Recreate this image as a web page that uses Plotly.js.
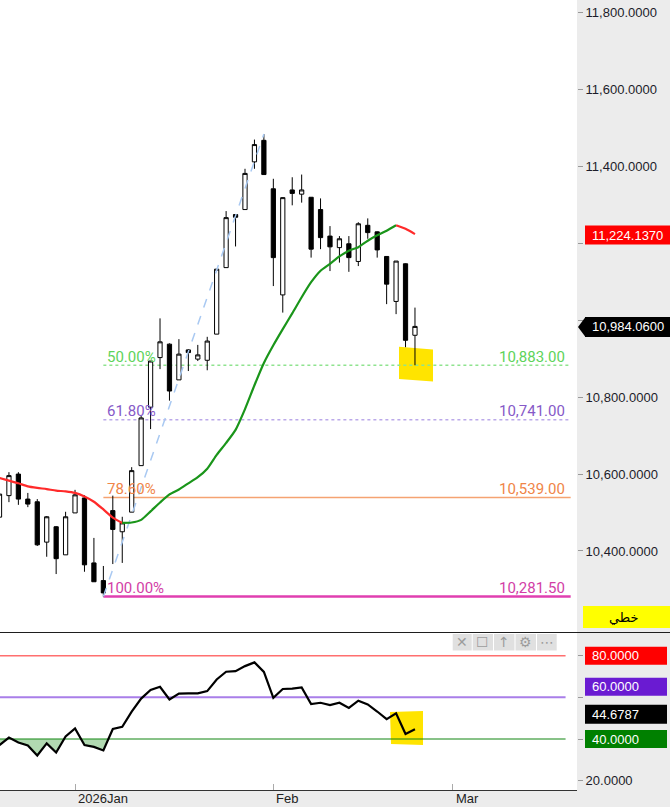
<!DOCTYPE html>
<html><head><meta charset="utf-8">
<script src="https://cdn.plot.ly/plotly-3.0.1.min.js"></script>
<style>html,body{margin:0;padding:0;background:#ececec;}#chart{width:670px;height:807px;}</style>
</head><body><div id="chart"></div>
<script>
// ---------------- DATA ----------------
const candleIdx = Array.from({length:45}, (_, i) => i);
const openP  = [10488,10544,10600,10535,10528,10423,10463,10390,10499,10538,10369,10323,10505,10450,10501,10622,10774,10903,10938,10845,10923,10899,10896,10964,11137,11275,11288,11412,11468,11342,11066,11339,11328,11320,11288,11219,11189,11199,11153,11247,11230,11166,11049,11147,10961];
const highP  = [10556,10605,10605,10551,10535,10491,10465,10502,10559,10545,10434,10361,10544,10489,10618,10751,10894,11005,10940,10951,10925,10936,10957,11133,11284,11276,11394,11470,11484.5,11368,11320,11372,11379,11320,11317,11245,11219,11219,11255,11265,11231,11166,11154,11148,11033];
const lowP   = [10449,10527,10520,10514,10413,10385,10340,10390,10499,10346,10320,10281.5,10366,10369,10501,10622,10717,10873,10791,10845,10868,10894,10870,10964,11137,11192,11288,11394,11379,11089,11020,11299,11306,11163,11185,11128,11150,11126,11141,11212,11163,11042,11016,10930,10883];
const closeP = [10548,10596,10535,10522,10416,10489,10380,10489,10546,10364,10320,10291,10456,10473,10609,10746,10894,10944,10816,10912,10916,10910,10946,11133,11267,11268,11382,11457,11379,11163,11319,11330,11339,11185,11215,11191,11212,11163,11251,11228,11183,11094,11154,10948,10984.06];
const maValues = [10590,10583,10576,10568,10564,10561,10557,10555,10551,10542,10528,10508,10487,10473,10474,10481,10503,10526,10547,10560,10576,10592,10614,10650,10681,10715,10769,10831,10889,10935,10977,11018,11060,11099,11129,11147,11166,11181,11190,11207,11221,11233,11247,11238,11224.137];
const rsiValues = [37.1,40.7,38.3,36.9,32.1,37.9,33.5,41.2,45.1,37.1,36.2,34.5,44.8,45.9,53.1,59.4,63.5,65.1,59.0,61.8,61.9,61.9,63.0,68.6,72.3,72.6,75.0,76.8,72.2,59.8,64.0,64.2,64.8,56.8,57.4,56.3,57.4,54.9,58.4,56.6,53.2,49.5,52.3,42.4,44.6787];
const fibLevels = [10883.00, 10741.00, 10539.00, 10281.50];
const fibLabels = ['50.00%', '61.80%', '78.60%', '100.00%'];
const rsiLevels = [80, 60, 40];
const priceTicks = [10400, 10600, 10800, 11000, 11200, 11400, 11600, 11800];
const priceTickText = ['10,400.0000', '10,600.0000', '10,800.0000', '', '', '11,400.0000', '11,600.0000', '11,800.0000'];
const rsiTicks = [20, 40, 60, 80];
const rsiTickText = ['20.0000', '', '', ''];
const xTickIdx = [8, 29, 48];
const xTickLabels = ['2026Jan', 'Feb', 'Mar'];
const trendIdx = [11, 28];
const boxLabelText = 'خطي';

// ---------------- LAYOUT CONSTANTS ----------------
const PW = 577, PH = 790;
const xRange = [0.053, 61.16];
const yRange = [10189.3, 11833.0];
const rRange = [15.52, 90.89];
const mainDom = [0.2, 1], rsiDom = [0, 0.19873];
const fibStart = trendIdx[0], fibEnd = 60.49, rsiLineEnd = 59.95;
const pxX = px => px / PW;
const pxY = py => (PH - py) / PH;
const yPixMain = v => (yRange[1] - v) / (yRange[1] - yRange[0]) * 632;
const yPixRsi = v => 633 + (rRange[1] - v) / (rRange[1] - rRange[0]) * 157;
const fmt2 = v => v.toLocaleString('en-US', {minimumFractionDigits: 2, maximumFractionDigits: 2});
const fmt4 = v => v.toLocaleString('en-US', {minimumFractionDigits: 4, maximumFractionDigits: 4});

const fibStyles = [
  {line: '#8fe38f', width: 1.5, dash: 'dot', text: '#5ed35a'},
  {line: '#bba9ea', width: 1.5, dash: 'dot', text: '#8659c8'},
  {line: '#f5a372', width: 1.5, dash: 'solid', text: '#f08548'},
  {line: '#e03fb0', width: 2.5, dash: 'solid', text: '#d23ea6'}
];
const rsiStyles = [
  {line: '#ff6f6f', width: 1.6, box: '#ff0000', shift: 0},
  {line: '#a97ee9', width: 2, box: '#6a1bd2', shift: -10.5},
  {line: '#118511', width: 1, box: '#008000', shift: 0}
];

// ---------------- TRACES ----------------
const traces = [];
traces.push({type: 'scatter', mode: 'lines', x: trendIdx, y: [lowP[trendIdx[0]], highP[trendIdx[1]]],
  xaxis: 'x', yaxis: 'y', line: {color: '#a9c9f2', width: 1.5, dash: 'dash'}, hoverinfo: 'skip'});
traces.push({type: 'candlestick', x: candleIdx, open: openP, high: highP, low: lowP, close: closeP,
  xaxis: 'x', yaxis: 'y', whiskerwidth: 0,
  increasing: {line: {color: '#000', width: 1}, fillcolor: '#ffffff'},
  decreasing: {line: {color: '#000', width: 1}, fillcolor: '#000000'}, hoverinfo: 'skip'});
const segs = [[0, 13, '#ff2a2a'], [13, 42, '#1a951a'], [42, 44, '#ff2a2a']];
segs.forEach(([a, b, c]) => traces.push({type: 'scatter', mode: 'lines', xaxis: 'x', yaxis: 'y',
  x: candleIdx.slice(a, b + 1), y: maValues.slice(a, b + 1),
  line: {color: c, width: 2.2, shape: 'spline', smoothing: 0.6}, hoverinfo: 'skip'}));
const lo = rsiLevels[2];
const fx = [], fy = [];
for (let i = 0; i < rsiValues.length; i++) {
  if (i > 0) {
    const a = rsiValues[i - 1] - lo, b = rsiValues[i] - lo;
    if (a * b < 0) { fx.push(i - 1 + a / (a - b)); fy.push(lo); }
  }
  fx.push(i); fy.push(Math.min(rsiValues[i], lo));
}
traces.push({type: 'scatter', mode: 'lines', x: fx, y: fx.map(() => lo), xaxis: 'x', yaxis: 'y2',
  line: {width: 0, color: 'rgba(0,0,0,0)'}, hoverinfo: 'skip'});
traces.push({type: 'scatter', mode: 'lines', x: fx, y: fy, xaxis: 'x', yaxis: 'y2', fill: 'tonexty',
  fillcolor: 'rgba(40,150,40,0.36)', line: {width: 0, color: 'rgba(0,0,0,0)'}, hoverinfo: 'skip'});
traces.push({type: 'scatter', mode: 'lines', x: candleIdx, y: rsiValues, xaxis: 'x', yaxis: 'y2',
  line: {color: '#000', width: 2.2}, hoverinfo: 'skip'});

// ---------------- SHAPES & ANNOTATIONS ----------------
const shapes = [], ann = [];
const F = 'Liberation Sans, Arial, sans-serif';
fibLevels.forEach((lv, k) => {
  const s = fibStyles[k];
  shapes.push({type: 'line', layer: 'below', xref: 'x', yref: 'y', x0: fibStart, x1: fibEnd, y0: lv, y1: lv,
    line: {color: s.line, width: s.width, dash: s.dash}});
  ann.push({xref: 'x', yref: 'y', x: fibStart, y: lv, xanchor: 'left', yanchor: 'middle', xshift: 2, yshift: 8.5,
    text: fibLabels[k], showarrow: false, font: {family: 'Roboto', size: 15, color: s.text}});
  ann.push({xref: 'x', yref: 'y', x: fibEnd, y: lv, xanchor: 'right', yanchor: 'middle', xshift: -4, yshift: 8.5,
    text: fmt2(lv), showarrow: false, font: {family: 'Roboto', size: 15, color: s.text}});
});
const hx0 = pxX(399), hx1 = pxX(433);
shapes.push({type: 'path', layer: 'below', xref: 'paper', yref: 'paper',
  path: `M${hx0},${pxY(346.7)} L${hx1},${pxY(349.5)} L${hx1},${pxY(381.5)} L${hx0},${pxY(379)} Z`,
  fillcolor: '#ffe400', line: {width: 0}});
rsiLevels.forEach((lv, k) => shapes.push({type: 'line', layer: 'below', xref: 'x', yref: 'y2',
  x0: xRange[0], x1: rsiLineEnd, y0: lv, y1: lv, line: {color: rsiStyles[k].line, width: rsiStyles[k].width}}));
shapes.push({type: 'path', layer: 'below', xref: 'paper', yref: 'paper',
  path: `M${pxX(390)},${pxY(712)} L${pxX(423)},${pxY(711)} L${pxX(423)},${pxY(745)} L${pxX(391)},${pxY(744)} Z`,
  fillcolor: '#ffe400', line: {width: 0}});
shapes.push({type: 'line', xref: 'paper', yref: 'paper', x0: 0, x1: 670 / PW, y0: pxY(632.5), y1: pxY(632.5),
  line: {color: '#1e1e1e', width: 1.2}});

function box(x0, x1, yc, h, color) {
  shapes.push({type: 'rect', xref: 'paper', yref: 'paper', x0: pxX(x0), x1: pxX(x1),
    y0: pxY(yc + h / 2), y1: pxY(yc - h / 2), fillcolor: color, line: {width: 0}, layer: 'above'});
}
function label(x, yc, text, color, anchor) {
  ann.push({xref: 'paper', yref: 'paper', x: pxX(x), y: pxY(yc), xanchor: anchor || 'left', yanchor: 'middle',
    text: text, showarrow: false, font: {family: F, size: 13, color: color}});
}
const maY = yPixMain(maValues[maValues.length - 1]) + 1;
box(585, 670, maY, 19, '#ff0000');
label(627.5, maY, fmt4(maValues[maValues.length - 1]), '#ffffff', 'center');
const pY = yPixMain(closeP[closeP.length - 1]) + 0.5;
box(585, 670, pY, 20, '#000000');
shapes.push({type: 'path', xref: 'paper', yref: 'paper', layer: 'above',
  path: `M${pxX(578)},${pxY(pY)} L${pxX(585.5)},${pxY(pY - 10)} L${pxX(585.5)},${pxY(pY + 10)} Z`,
  fillcolor: '#000', line: {width: 0}});
label(627.5, pY, fmt4(closeP[closeP.length - 1]), '#ffffff', 'center');
rsiLevels.forEach((lv, k) => {
  const yc = yPixRsi(lv) + rsiStyles[k].shift;
  box(585, 667, yc, 18, rsiStyles[k].box);
  label(590, yc, fmt4(lv), '#ffffff');
});
const rY = yPixRsi(rsiValues[rsiValues.length - 1]) - 15;
box(585, 667, rY, 19, '#000000');
label(590, rY, fmt4(rsiValues[rsiValues.length - 1]), '#ffffff');
box(583, 670, 617, 22, '#ffff00');
ann.push({xref: 'paper', yref: 'paper', x: pxX(624), y: pxY(617), xanchor: 'center', yanchor: 'middle',
  text: boxLabelText, showarrow: false, font: {family: 'DejaVu Sans', size: 13, color: '#000'}});
const tb = [[452.7, 471.7, '✕'], [472.7, 493, '☐'], [494, 514.5, '↑'], [515.5, 536, '⚙'], [537, 556.7, '⋯']];
tb.forEach(([a, b, g]) => {
  shapes.push({type: 'rect', xref: 'paper', yref: 'paper', x0: pxX(a), x1: pxX(b), y0: pxY(650.5), y1: pxY(634),
    fillcolor: '#e0e0e0', line: {width: 0}, layer: 'above'});
  ann.push({xref: 'paper', yref: 'paper', x: pxX((a + b) / 2), y: pxY(642.3), xanchor: 'center', yanchor: 'middle',
    text: g, showarrow: false, font: {family: 'DejaVu Sans', size: 14, color: '#9c9c9c'}});
});
xTickIdx.forEach((t, k) => ann.push({xref: 'x', yref: 'paper', x: t, y: pxY(798.5), xanchor: 'left', yanchor: 'middle',
  xshift: 1, text: xTickLabels[k], showarrow: false, font: {family: F, size: 13, color: '#222'}}));

const axisFont = {family: F, size: 13, color: '#1c1c2a'};
const layout = {
  width: 670, height: 807, margin: {l: 0, r: 93, t: 0, b: 17, pad: 0},
  paper_bgcolor: '#ececec', plot_bgcolor: '#ffffff', showlegend: false, boxgap: 0.36,
  xaxis: {range: xRange, autorange: false, anchor: 'y2', showgrid: false, zeroline: false,
    showline: true, linecolor: '#333', linewidth: 1, ticks: 'inside', ticklen: 6, tickcolor: '#aaaaaa',
    tickvals: xTickIdx, showticklabels: false, rangeslider: {visible: false}, fixedrange: true},
  yaxis: {domain: mainDom, range: yRange, autorange: false, side: 'right', anchor: 'x', showgrid: false,
    zeroline: false, showline: false, tickvals: priceTicks, ticktext: priceTickText, ticks: 'outside', ticklen: 5,
    tickcolor: '#999', tickfont: axisFont, fixedrange: true},
  yaxis2: {domain: rsiDom, range: rRange, autorange: false, side: 'right', anchor: 'x', showgrid: false,
    zeroline: false, showline: false, tickvals: rsiTicks, ticktext: rsiTickText, ticks: 'outside', ticklen: 5,
    tickcolor: '#999', tickfont: axisFont, fixedrange: true},
  shapes: shapes, annotations: ann
};
Plotly.newPlot('chart', traces, layout, {staticPlot: true, displayModeBar: false});
</script></body></html>
